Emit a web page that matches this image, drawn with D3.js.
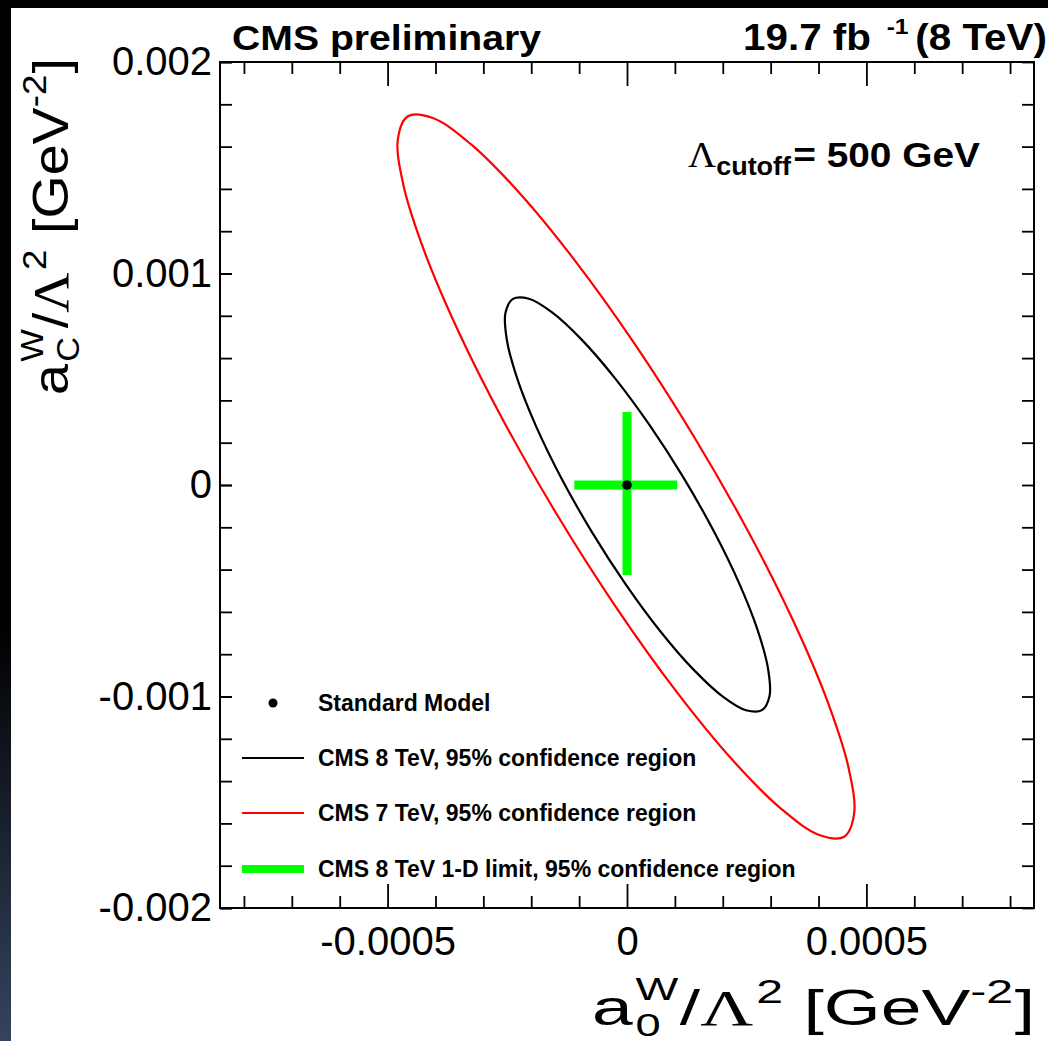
<!DOCTYPE html>
<html>
<head>
<meta charset="utf-8">
<script src="https://cdn.jsdelivr.net/npm/d3@7"></script>
<style>
  html, body { margin: 0; padding: 0; background: #fff; }
  svg { display: block; }
</style>
</head>
<body>
<svg id="chart" width="1048" height="1041"></svg>
<script>
// ---- data (couplings in GeV^-2) ----
const xMajorTicks = [-0.0005, 0, 0.0005];
const xTickLabels = ["-0.0005", "0", "0.0005"];
const yMajorTicks = [-0.002, -0.001, 0, 0.001, 0.002];
const yTickLabels = ["-0.002", "-0.001", "0", "0.001", "0.002"];

// Standard Model point
const smPoint = [0, 0];

// CMS 8 TeV, 95% CL contour (a0W/L^2, aCW/L^2)
const cms8_a0 = [2.819e-4, 2.484e-4, 1.995e-4, 1.385e-4, 0.695e-4, -0.027e-4, -0.732e-4, -1.373e-4,
                 -1.905e-4, -2.292e-4, -2.508e-4, -2.539e-4, -2.381e-4, -2.046e-4, -1.557e-4, -0.947e-4,
                 -0.257e-4, 0.465e-4, 1.170e-4, 1.811e-4, 2.343e-4, 2.730e-4, 2.946e-4, 2.977e-4];
const cms8_aC = [-10.643e-4, -10.649e-4, -9.993e-4, -8.718e-4, -6.912e-4, -4.697e-4, -2.226e-4, 0.334e-4,
                 2.809e-4, 5.030e-4, 6.845e-4, 8.130e-4, 8.799e-4, 8.805e-4, 8.149e-4, 6.874e-4,
                 5.068e-4, 2.853e-4, 0.382e-4, -2.178e-4, -4.653e-4, -6.874e-4, -8.689e-4, -9.974e-4];

// CMS 7 TeV, 95% CL contour
const cms7_a0 = [4.534e-4, 4.014e-4, 3.220e-4, 2.204e-4, 1.037e-4, -0.202e-4, -1.429e-4, -2.560e-4,
                 -3.518e-4, -4.237e-4, -4.670e-4, -4.785e-4, -4.576e-4, -4.056e-4, -3.262e-4, -2.246e-4,
                 -1.079e-4, 0.160e-4, 1.387e-4, 2.518e-4, 3.476e-4, 4.195e-4, 4.628e-4, 4.743e-4];
const cms7_aC = [-16.629e-4, -16.547e-4, -15.311e-4, -13.005e-4, -9.784e-4, -5.869e-4, -1.527e-4, 2.946e-4,
                 7.247e-4, 11.081e-4, 14.186e-4, 16.353e-4, 17.433e-4, 17.351e-4, 16.115e-4, 13.809e-4,
                 10.588e-4, 6.673e-4, 2.331e-4, -2.142e-4, -6.443e-4, -10.277e-4, -13.382e-4, -15.549e-4];

// CMS 8 TeV one-dimensional 95% CL limits
const limit1D_a0 = [-1.1e-4, 1.05e-4];
const limit1D_aC = [-4.25e-4, 3.45e-4];

const legendLabels = ["Standard Model", "CMS 8 TeV, 95% confidence region",
                      "CMS 7 TeV, 95% confidence region", "CMS 8 TeV 1-D limit, 95% confidence region"];

// ---- layout ----
const W = 1048, H = 1041;
const frame = { left: 220, right: 1034, top: 62, bottom: 908 };
const SANS = "'Liberation Sans', Arial, Helvetica, sans-serif";
const SERIF = "'Liberation Serif', 'Times New Roman', serif";
const GREEN = "#00ff00", RED = "#ff0000";

const svg = d3.select("#chart");

// page backdrop: white sheet with a dark band on top and a dark strip on the left
const defs = svg.append("defs");
const grad = defs.append("linearGradient").attr("id", "leftStrip")
  .attr("x1", 0).attr("y1", 0).attr("x2", 0).attr("y2", 1);
grad.append("stop").attr("offset", "0").attr("stop-color", "#000");
grad.append("stop").attr("offset", "0.6").attr("stop-color", "#000");
grad.append("stop").attr("offset", "1").attr("stop-color", "#34445f");
svg.append("rect").attr("width", W).attr("height", H).attr("fill", "#fff");
svg.append("rect").attr("x", 0).attr("y", 0).attr("width", 11).attr("height", H).attr("fill", "url(#leftStrip)");
svg.append("rect").attr("x", 0).attr("y", 0).attr("width", W).attr("height", 8).attr("fill", "#000");

const x = d3.scaleLinear().domain([-0.00085, 0.00085]).range([frame.left, frame.right]);
const y = d3.scaleLinear().domain([-0.002, 0.002]).range([frame.bottom, frame.top]);

const xMinor = d3.range(-8, 9).map(i => i * 1e-4).filter(v => !xMajorTicks.some(m => Math.abs(m - v) < 1e-9));
const yMinor = d3.range(-10, 11).map(i => i * 2e-4);

function styleAxis(g) {
  g.select(".domain").remove();
  g.selectAll(".tick line").attr("stroke", "#000").attr("stroke-width", 1.8);
  g.selectAll(".tick text").attr("fill", "#000").style("font-family", SANS).style("font-size", "40px");
}

// bottom axis with labels
svg.append("g").attr("transform", `translate(0,${frame.bottom})`)
  .call(d3.axisBottom(x).tickValues(xMajorTicks).tickSize(-24).tickPadding(19)
        .tickFormat((d, i) => xTickLabels[i]))
  .call(styleAxis);
svg.append("g").attr("transform", `translate(0,${frame.bottom})`)
  .call(d3.axisBottom(x).tickValues(xMinor).tickSize(-12).tickFormat(""))
  .call(styleAxis);
// top axis (ticks only)
svg.append("g").attr("transform", `translate(0,${frame.top})`)
  .call(d3.axisTop(x).tickValues(xMajorTicks).tickSize(-24).tickFormat(""))
  .call(styleAxis);
svg.append("g").attr("transform", `translate(0,${frame.top})`)
  .call(d3.axisTop(x).tickValues(xMinor).tickSize(-12).tickFormat(""))
  .call(styleAxis);
// left axis with labels
svg.append("g").attr("transform", `translate(${frame.left},0)`)
  .call(d3.axisLeft(y).tickValues(yMajorTicks).tickSize(-12).tickPadding(8)
        .tickFormat((d, i) => yTickLabels[i]))
  .call(styleAxis);
svg.append("g").attr("transform", `translate(${frame.left},0)`)
  .call(d3.axisLeft(y).tickValues(yMinor).tickSize(-12).tickFormat(""))
  .call(styleAxis);
// right axis (ticks only)
svg.append("g").attr("transform", `translate(${frame.right},0)`)
  .call(d3.axisRight(y).tickValues(yMinor).tickSize(-12).tickFormat(""))
  .call(styleAxis);

// frame
svg.append("rect").attr("x", frame.left).attr("y", frame.top)
  .attr("width", frame.right - frame.left).attr("height", frame.bottom - frame.top)
  .attr("fill", "none").attr("stroke", "#000").attr("stroke-width", 2);

// contours
const contour = d3.line().x(d => x(d[0])).y(d => y(d[1])).curve(d3.curveCatmullRomClosed.alpha(0.5));
svg.append("path").datum(d3.zip(cms7_a0, cms7_aC)).attr("d", contour)
  .attr("fill", "none").attr("stroke", RED).attr("stroke-width", 2.2);
svg.append("path").datum(d3.zip(cms8_a0, cms8_aC)).attr("d", contour)
  .attr("fill", "none").attr("stroke", "#000").attr("stroke-width", 2.2);

// 1-D limits
svg.append("line").attr("x1", x(limit1D_a0[0])).attr("x2", x(limit1D_a0[1]))
  .attr("y1", y(smPoint[1])).attr("y2", y(smPoint[1]))
  .attr("stroke", GREEN).attr("stroke-width", 9);
svg.append("line").attr("x1", x(smPoint[0])).attr("x2", x(smPoint[0]))
  .attr("y1", y(limit1D_aC[0])).attr("y2", y(limit1D_aC[1]))
  .attr("stroke", GREEN).attr("stroke-width", 9);

// SM point
svg.append("circle").attr("cx", x(smPoint[0])).attr("cy", y(smPoint[1])).attr("r", 4.8).attr("fill", "#000");

// ---- rich text helper: pieces laid out left to right, sub/superscripts via baseline shifts ----
function richText(parent, x0, y0, pieces, opts = {}) {
  const anchor = opts.anchor || "start";
  const g = parent.append("g");
  const inner = g.append("g");
  let cursor = 0, prevStart = 0;
  pieces.forEach(p => {
    const startX = p.stack ? prevStart : cursor + (p.dx || 0);
    const t = inner.append("text")
      .attr("x", startX).attr("y", p.dy || 0)
      .style("font-family", p.family || SANS)
      .style("font-size", p.size + "px")
      .style("font-weight", p.weight || "normal")
      .attr("fill", "#000")
      .text(p.text);
    const w = t.node().getComputedTextLength();
    if (p.stack) {
      cursor = Math.max(cursor, startX + w);
    } else {
      prevStart = startX;
      cursor = startX + w;
    }
  });
  const total = cursor;
  const sx = opts.width ? opts.width / total : 1;
  inner.attr("transform", `scale(${sx},1)`);
  const offset = anchor === "end" ? -total * sx : anchor === "middle" ? -total * sx / 2 : 0;
  g.attr("transform", `translate(${x0},${y0}) rotate(${opts.rotate || 0}) translate(${offset},0)`);
  return g;
}

// header texts
richText(svg, 232, 50, [{ text: "CMS preliminary", size: 36, weight: "bold" }], { width: 309 });
richText(svg, 1047, 50, [
  { text: "19.7 fb", size: 36, weight: "bold" },
  { text: "-1", size: 22, weight: "bold", dy: -16, dx: 14 },
  { text: "(8 TeV)", size: 36, weight: "bold", dx: 6 }
], { anchor: "end", width: 304 });

// cutoff annotation
richText(svg, 688, 167, [
  { text: "Λ", size: 36, family: SERIF },
  { text: "cutoff", size: 25, weight: "bold", dy: 8 },
  { text: "= 500 GeV", size: 36, weight: "bold", dx: 2 }
], { width: 292 });

// axis titles
const titlePieces = sub => [
  { text: "a", size: 50 },
  { text: "W", size: 31, dy: -25, dx: 2 },
  { text: sub, size: 31, dy: 11, stack: true },
  { text: "/", size: 50, dx: 1 },
  { text: "Λ", size: 50, family: SERIF },
  { text: "2", size: 33, dy: -22, dx: 2 },
  { text: "[GeV", size: 50, dx: 14 },
  { text: "-2", size: 33, dy: -22 },
  { text: "]", size: 50, dx: 1 }
];
richText(svg, 1035, 1025, titlePieces("0"), { anchor: "end", width: 443 });
richText(svg, 68, 58, titlePieces("C"), { anchor: "end", width: 337, rotate: -90 });

// legend
const legendRows = [703, 758, 813, 869];
const legX0 = 242, legX1 = 304, legText = 318;
svg.append("circle").attr("cx", (legX0 + legX1) / 2).attr("cy", legendRows[0]).attr("r", 4.5).attr("fill", "#000");
svg.append("line").attr("x1", legX0).attr("x2", legX1).attr("y1", legendRows[1]).attr("y2", legendRows[1])
  .attr("stroke", "#000").attr("stroke-width", 2);
svg.append("line").attr("x1", legX0).attr("x2", legX1).attr("y1", legendRows[2]).attr("y2", legendRows[2])
  .attr("stroke", RED).attr("stroke-width", 2);
svg.append("line").attr("x1", legX0).attr("x2", legX1).attr("y1", legendRows[3]).attr("y2", legendRows[3])
  .attr("stroke", GREEN).attr("stroke-width", 8);
svg.append("g").selectAll("text").data(legendLabels).join("text")
  .attr("x", legText).attr("y", (d, i) => legendRows[i] + 8)
  .style("font-family", SANS).style("font-size", "23px").style("font-weight", "bold")
  .attr("fill", "#000")
  .text(d => d);
</script>
</body>
</html>
